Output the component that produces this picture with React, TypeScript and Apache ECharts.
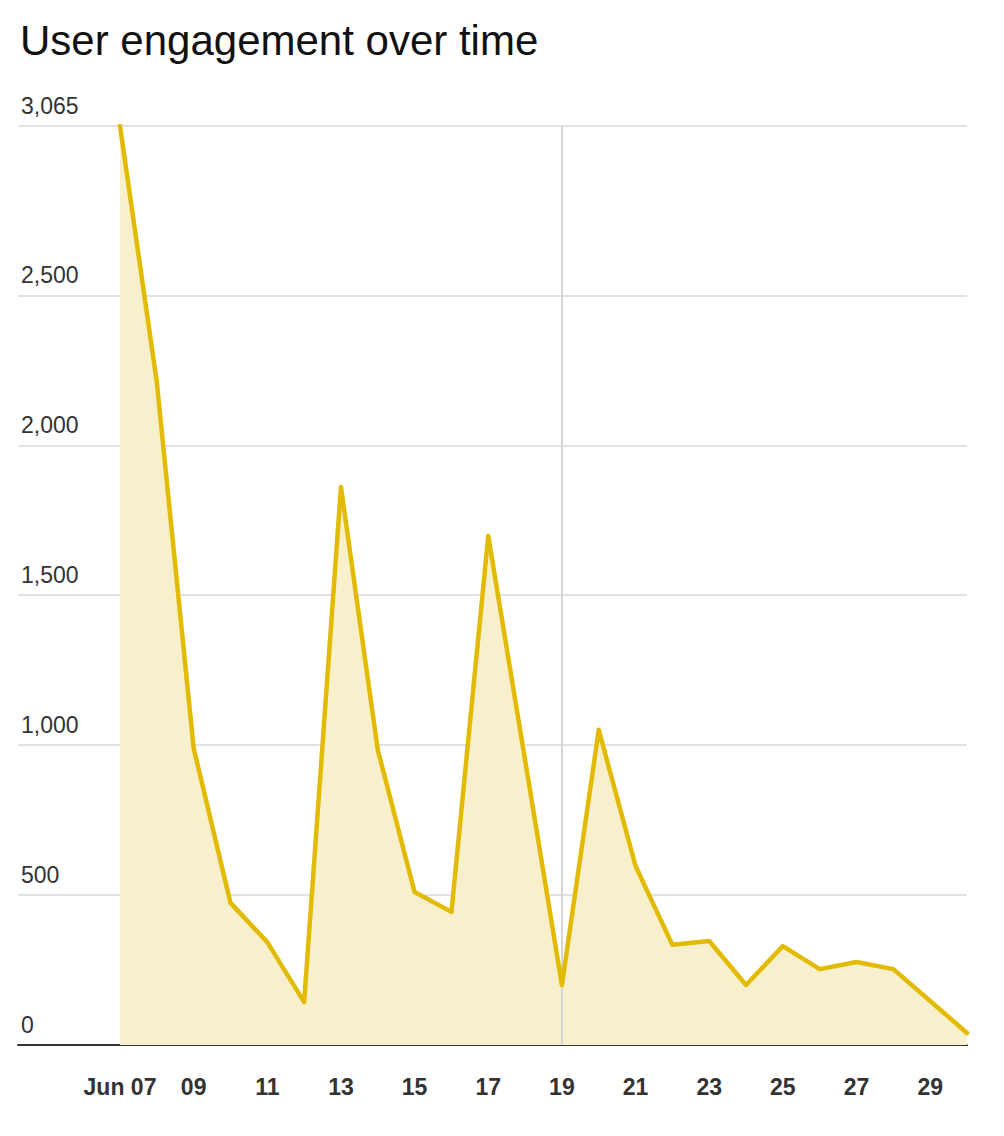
import React, { useEffect, useRef } from "react";
import * as echarts from "echarts";

const dates = ["Jun 07","Jun 08","Jun 09","Jun 10","Jun 11","Jun 12","Jun 13","Jun 14","Jun 15","Jun 16","Jun 17","Jun 18","Jun 19","Jun 20","Jun 21","Jun 22","Jun 23","Jun 24","Jun 25","Jun 26","Jun 27","Jun 28","Jun 29","Jun 30"];
const engagement = [3065, 2210, 990, 474, 343, 143, 1861, 984, 510, 444, 1698, 950, 200, 1051, 597, 334, 347, 200, 330, 253, 277, 253, 147, 40];
const yTicks = [0, 500, 1000, 1500, 2000, 2500, 3065];
const xTickIdx = [0, 2, 4, 6, 8, 10, 12, 14, 16, 18, 20, 22];
const markerIdx = 12;

export default function App() {
  const ref = useRef<HTMLDivElement>(null);
  useEffect(() => {
    document.body.style.margin = "0";
    const chart = echarts.init(ref.current!, null, { renderer: "svg" });
    const pts = engagement.map((v, i) => [i, v]);
    chart.setOption({
      animation: false,
      backgroundColor: "#fff",
      title: {
        text: "User engagement over time",
        left: 15,
        top: 14,
        textStyle: { fontFamily: "Liberation Sans", fontSize: 42, fontWeight: "normal", color: "#111" },
      },
      grid: { left: 18, right: 37, top: 126, bottom: 91 },
      xAxis: {
        type: "value",
        min: -2.77,
        max: 23,
        axisLine: { show: true, lineStyle: { color: "#333", width: 2 } },
        axisTick: { show: false, customValues: xTickIdx },
        splitLine: { show: false },
        axisLabel: {
          customValues: xTickIdx,
          margin: 30,
          fontFamily: "Liberation Sans",
          fontSize: 23,
          fontWeight: "bold",
          color: "#333",
          formatter: (v: number) => (v === 0 ? dates[0] : dates[Math.round(v)].slice(4)),
        },
      },
      yAxis: {
        type: "value",
        min: 0,
        max: 3065,
        axisLine: { show: false },
        axisTick: { show: false, customValues: yTicks },
        splitLine: { show: true, lineStyle: { color: "#d9d9d9", width: 1.5 } },
        axisLabel: {
          customValues: yTicks,
          inside: true,
          margin: 3,
          align: "left",
          verticalAlign: "bottom",
          padding: [0, 0, 9, 0],
          fontFamily: "Liberation Sans",
          fontSize: 23,
          color: "#333",
          formatter: (v: number) => v.toLocaleString("en-US"),
        },
      },
      series: [
        {
          type: "line",
          data: pts,
          symbol: "none",
          lineStyle: { width: 0 },
          areaStyle: { color: "#f8efcd", opacity: 1 },
          z: 1,
          markLine: {
            silent: true,
            symbol: "none",
            label: { show: false },
            lineStyle: { color: "#d6d6d6", width: 2, type: "solid" },
            data: [{ xAxis: markerIdx }],
          },
        },
        {
          type: "line",
          data: pts,
          symbol: "none",
          clip: false,
          lineStyle: { color: "#e2bb00", width: 4.5, join: "round", cap: "round" },
          z: 10,
        },
      ],
    });
    return () => chart.dispose();
  }, []);
  return <div ref={ref} style={{ width: 1004, height: 1136 }} />;
}
